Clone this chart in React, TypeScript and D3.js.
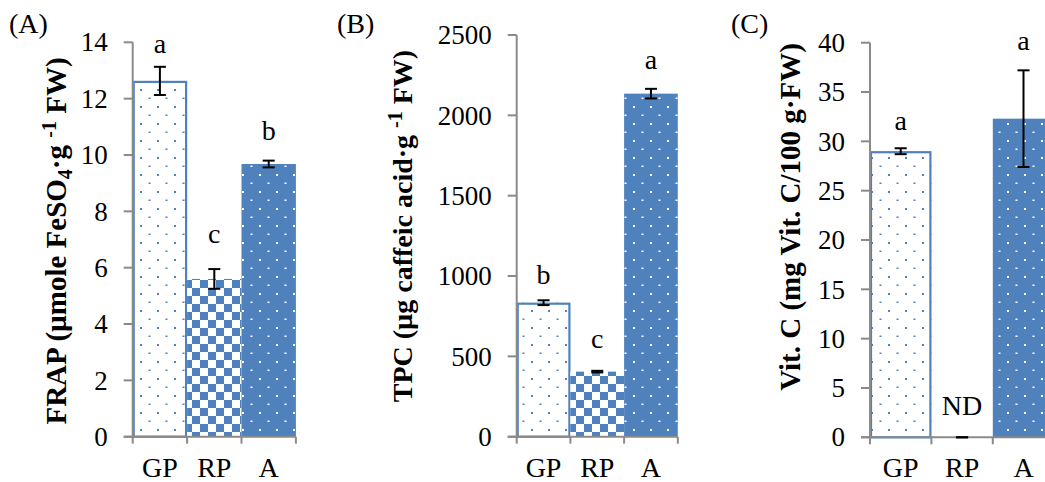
import React from "react";
import * as d3 from "d3";

const categories = ["GP", "RP", "A"];

const frapMeans = [12.63, 5.6, 9.68];
const frapErrors = [0.5, 0.35, 0.12];
const frapLetters = ["a", "c", "b"];
const frapLetterLevels = [13.62, 6.88, 10.53];
const frapTicks = [0, 2, 4, 6, 8, 10, 12, 14];

const tpcMeans = [834, 405, 2135];
const tpcErrors = [15, 5, 30];
const tpcLetters = ["b", "c", "a"];
const tpcLetterLevels = [950, 550, 2286];
const tpcTicks = [0, 500, 1000, 1500, 2000, 2500];

const vitcMeans = [29.0, 0, 32.3];
const vitcErrors = [0.3, 0, 4.9];
const vitcLetters = ["a", "ND", "a"];
const vitcLetterLevels = [31.2, 2.27, 39.26];
const vitcTicks = [0, 5, 10, 15, 20, 25, 30, 35, 40];

const BLUE = "#4F81BD";
const GRAY = "#8A8A8A";
const FONT = "'Liberation Serif', 'Times New Roman', serif";

const fills = ["url(#dotsLight)", "url(#checker)", "url(#dotsDark)"];

type PanelProps = {
  tag: string;
  tagX: number;
  axisX: number;
  bandW: number;
  top: number;
  bottom: number;
  ticks: number[];
  means: number[];
  errors: number[];
  letters: string[];
  letterLevels: number[];
  title: React.ReactNode;
  titleX: number;
  titleY: number;
  titleSize: number;
};

function Panel(p: PanelProps) {
  const max = p.ticks[p.ticks.length - 1];
  const y = d3.scaleLinear().domain([0, max]).range([p.bottom, p.top]);
  const x = d3
    .scaleBand<string>()
    .domain(categories)
    .range([p.axisX, p.axisX + p.bandW * categories.length])
    .padding(0);
  const bw = x.bandwidth();
  const xEnd = p.axisX + bw * categories.length;
  return (
    <g>
      <text x={p.tagX} y={33} fontSize={28} fontFamily={FONT}>
        {p.tag}
      </text>
      {categories.map((c, i) => {
        const x0 = x(c)!;
        const yTop = y(p.means[i]);
        if (p.means[i] <= 0) return null;
        return (
          <g key={c}>
            <rect
              x={x0}
              y={yTop}
              width={bw}
              height={p.bottom - yTop}
              fill={fills[i]}
            />
            {i === 0 && (
              <rect
                x={x0 + 1}
                y={yTop + 1}
                width={bw - 2}
                height={p.bottom - yTop - 1}
                fill="none"
                stroke={BLUE}
                strokeWidth={2.2}
              />
            )}
          </g>
        );
      })}
      {/* y axis */}
      <line x1={p.axisX} x2={p.axisX} y1={p.top} y2={p.bottom} stroke={GRAY} strokeWidth={2} />
      {p.ticks.map((t) => (
        <g key={t}>
          <line x1={p.axisX - 9} x2={p.axisX} y1={y(t)} y2={y(t)} stroke={GRAY} strokeWidth={2} />
          <text
            x={p.axisX - 25}
            y={y(t)}
            dy="0.34em"
            textAnchor="end"
            fontSize={27}
            fontFamily={FONT}
          >
            {t}
          </text>
        </g>
      ))}
      {/* x axis */}
      <line x1={p.axisX - 9} x2={xEnd} y1={p.bottom} y2={p.bottom} stroke={GRAY} strokeWidth={2} />
      {[...categories.map((c) => x(c)!), xEnd].map((v, i) => (
        <line key={i} x1={v} x2={v} y1={p.bottom} y2={p.bottom + 7} stroke={GRAY} strokeWidth={2} />
      ))}
      {categories.map((c) => (
        <text
          key={c}
          x={x(c)! + bw / 2}
          y={p.bottom + 40}
          textAnchor="middle"
          fontSize={28}
          fontFamily={FONT}
        >
          {c}
        </text>
      ))}
      {/* error bars */}
      {categories.map((c, i) => {
        const cx = x(c)! + bw / 2;
        const hi = y(p.means[i] + p.errors[i]);
        const lo = y(p.means[i] - p.errors[i]);
        return (
          <g key={c} stroke="#000" strokeWidth={2}>
            <line x1={cx} x2={cx} y1={hi} y2={lo} />
            <line x1={cx - 6} x2={cx + 6} y1={hi} y2={hi} />
            <line x1={cx - 6} x2={cx + 6} y1={lo} y2={lo} />
          </g>
        );
      })}
      {/* letters */}
      {categories.map((c, i) => (
        <text
          key={c}
          x={x(c)! + bw / 2}
          y={y(p.letterLevels[i])}
          textAnchor="middle"
          fontSize={28}
          fontFamily={FONT}
        >
          {p.letters[i]}
        </text>
      ))}
      <text
        transform={`translate(${p.titleX},${p.titleY}) rotate(-90)`}
        textAnchor="middle"
        fontSize={p.titleSize}
        fontWeight="bold"
        fontFamily={FONT}
      >
        {p.title}
      </text>
    </g>
  );
}

export default function App() {
  return (
    <svg
      width={1045}
      height={482}
      style={{ position: "absolute", left: 0, top: 0, background: "#fff" }}
    >
      <defs>
        <pattern id="dotsLight" patternUnits="userSpaceOnUse" width={17} height={17}>
          <rect width={17} height={17} fill="#fff" />
          <rect x={4} y={4} width={2} height={2} fill={BLUE} />
          <rect x={12.5} y={12.5} width={2} height={1.5} fill={BLUE} />
        </pattern>
        <pattern id="dotsDark" patternUnits="userSpaceOnUse" width={17} height={17}>
          <rect width={17} height={17} fill={BLUE} />
          <rect x={4} y={4} width={2} height={2} fill="#fff" />
          <rect x={12.5} y={12.5} width={2} height={1.5} fill="#fff" />
        </pattern>
        <pattern id="checker" patternUnits="userSpaceOnUse" width={16} height={16}>
          <rect width={16} height={16} fill="#fff" />
          <rect x={0} y={0} width={8} height={8} fill={BLUE} />
          <rect x={8} y={8} width={8} height={8} fill={BLUE} />
        </pattern>
      </defs>
      <Panel
        tag="(A)"
        tagX={9}
        axisX={132.7}
        bandW={54.4}
        top={42.3}
        bottom={436.7}
        ticks={frapTicks}
        means={frapMeans}
        errors={frapErrors}
        letters={frapLetters}
        letterLevels={frapLetterLevels}
        titleX={66}
        titleY={241}
        titleSize={29}
        title={
          <>
            FRAP (µmole FeSO<tspan dy="6" fontSize={20}>4</tspan>
            <tspan dy="-6">·g </tspan>
            <tspan dy="-10" fontSize={20}>-1</tspan>
            <tspan dy="10"> FW)</tspan>
          </>
        }
      />
      <Panel
        tag="(B)"
        tagX={337}
        axisX={516.7}
        bandW={53.7}
        top={35}
        bottom={436.7}
        ticks={tpcTicks}
        means={tpcMeans}
        errors={tpcErrors}
        letters={tpcLetters}
        letterLevels={tpcLetterLevels}
        titleX={412}
        titleY={226}
        titleSize={28}
        title={
          <>
            TPC (µg caffeic acid·g <tspan dy="-10" fontSize={20}>-1</tspan>
            <tspan dy="10"> FW)</tspan>
          </>
        }
      />
      <Panel
        tag="(C)"
        tagX={731}
        axisX={870}
        bandW={61.4}
        top={42.7}
        bottom={437.3}
        ticks={vitcTicks}
        means={vitcMeans}
        errors={vitcErrors}
        letters={vitcLetters}
        letterLevels={vitcLetterLevels}
        titleX={800}
        titleY={217}
        titleSize={29}
        title={<>Vit. C (mg Vit. C/100 g·FW)</>}
      />
    </svg>
  );
}
